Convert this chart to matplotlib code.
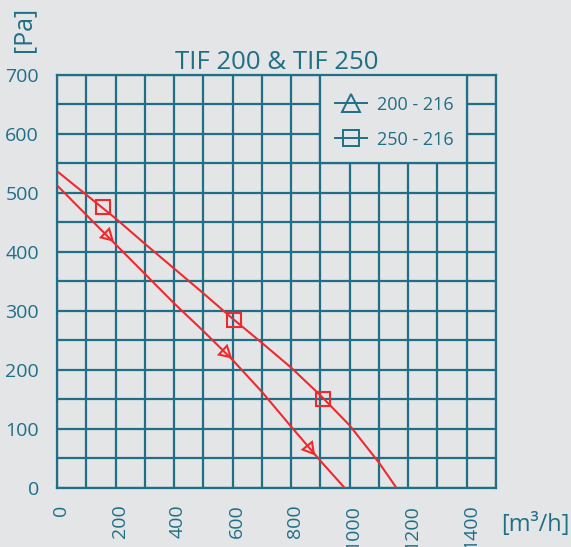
# TIF 200 & TIF 250 fan curves
import matplotlib
matplotlib.use('Agg')
import matplotlib.pyplot as plt
import matplotlib.transforms as mtransforms
from matplotlib.lines import Line2D
from matplotlib.patches import Rectangle
from matplotlib.ticker import MultipleLocator

plt.rcParams['font.family'] = ['Open Sans', 'DejaVu Sans']

teal = '#1f6f87'
red = '#ee2a2f'
bg = '#e4e5e7'

# curve 250 - 216
flow_250 = [0, 100, 200, 300, 400, 500, 600, 700, 800, 900, 1000, 1100, 1160]
pres_250 = [537, 497, 457, 414, 372, 330, 287, 246, 204, 157, 106, 43, 0]
sq_x = [158, 605, 910]
sq_y = [476, 285, 151]

# curve 200 - 216
flow_200 = [0, 100, 200, 300, 400, 500, 600, 700, 800, 900, 983]
pres_200 = [513, 463, 413, 363, 313, 266, 217, 163, 104, 46, 0]
tri_x = [172, 574, 862]
tri_y = [428, 230, 68]
tri_rot = [-134, -132, -141]

fig = plt.figure(figsize=(5.71, 5.47), dpi=100, facecolor=bg)
ax = fig.add_axes([0.0998, 0.1079, 0.7689, 0.755])
ax.set_facecolor(bg)

ax.set_xlim(0, 1500)
ax.set_ylim(0, 700)
ax.xaxis.set_major_locator(MultipleLocator(200))
ax.xaxis.set_minor_locator(MultipleLocator(100))
ax.yaxis.set_major_locator(MultipleLocator(100))
ax.yaxis.set_minor_locator(MultipleLocator(50))
ax.grid(True, which='both', color=teal, lw=1.6)
ax.set_axisbelow(True)
for s in ax.spines.values():
    s.set_color(teal)
    s.set_linewidth(1.6)
ax.tick_params(which='both', length=0, colors=teal)
ax.tick_params(axis='x', rotation=90, pad=12, labelsize=14)
ax.tick_params(axis='y', pad=13, labelsize=14)
shift = mtransforms.ScaledTranslation(4 / 100, 0, fig.dpi_scale_trans)
for lab in ax.get_xticklabels():
    lab.set_transform(lab.get_transform() + shift)

ax.plot(flow_250, pres_250, color=red, lw=1.5, zorder=3)
ax.plot(sq_x, sq_y, ls='none', marker='s', ms=9.5, mfc='none', mec=red, mew=1.5, zorder=4)
ax.plot(flow_200, pres_200, color=red, lw=1.5, zorder=3)
for x, y, r in zip(tri_x, tri_y, tri_rot):
    ax.plot([x], [y], ls='none', marker=(3, 0, r), ms=10, mfc='none', mec=red, mew=1.5, zorder=4)

# legend box covering the grid
ax.add_patch(Rectangle((900, 550), 500, 150, facecolor=bg, edgecolor=teal, lw=1.6, zorder=5))
handles = [
    Line2D([], [], color=teal, lw=1.4, marker='^', ms=13, mfc='none', mec=teal, mew=1.4),
    Line2D([], [], color=teal, lw=1.4, marker='s', ms=11, mfc='none', mec=teal, mew=1.4),
]
leg = ax.legend(handles, ['200 - 216', '250 - 216'], loc='center', bbox_to_anchor=(1152, 620),
                bbox_transform=ax.transData, frameon=False, fontsize=13, labelcolor=teal,
                handlelength=1.8, handletextpad=0.55, labelspacing=0.95)
leg.set_zorder(6)

ax.set_title('TIF 200 & TIF 250', color=teal, fontsize=18.5, pad=3)
fig.text(0.041, 0.988, '[Pa]', rotation=90, color=teal, fontsize=18, ha='center', va='top')
fig.text(0.997, 0.04, '[m³/h]', color=teal, fontsize=17, ha='right', va='center')

fig.savefig('out.png', dpi=100, facecolor=bg)
